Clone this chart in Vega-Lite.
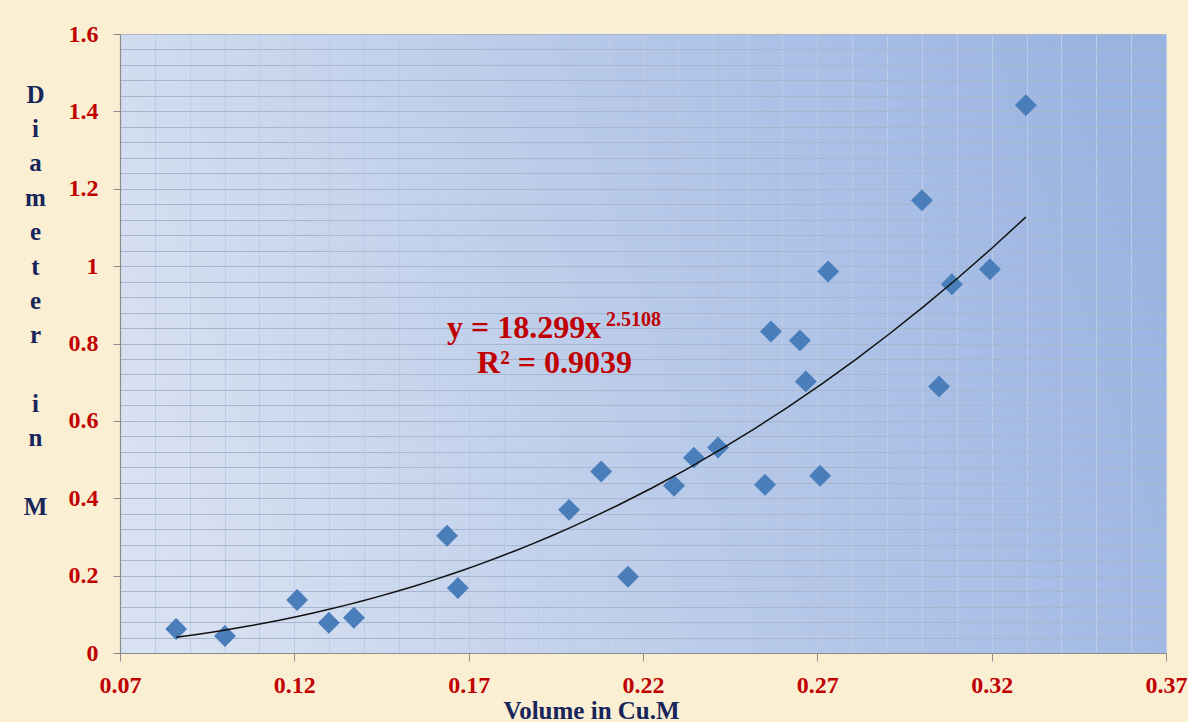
{
  "$schema": "https://vega.github.io/schema/vega-lite/v6.json",
  "autosize": "none",
  "width": 1046,
  "height": 619,
  "padding": {"left": 120, "top": 34, "right": 22, "bottom": 69},
  "background": "#fbefd3",
  "config": {
    "view": {
      "stroke": null,
      "fill": {"gradient": "linear", "x1": 0, "y1": 0.6, "x2": 1, "y2": 0.4,
        "stops": [{"offset": 0, "color": "#d8e1f1"}, {"offset": 1, "color": "#9ab4e2"}]}
    }
  },
  "datasets": {
    "trees": [
      {"volume": 0.0861, "diameter": 0.062},
      {"volume": 0.1001, "diameter": 0.044},
      {"volume": 0.1208, "diameter": 0.137},
      {"volume": 0.1299, "diameter": 0.078},
      {"volume": 0.1371, "diameter": 0.091},
      {"volume": 0.1638, "diameter": 0.303},
      {"volume": 0.1669, "diameter": 0.168},
      {"volume": 0.1988, "diameter": 0.370},
      {"volume": 0.2080, "diameter": 0.469},
      {"volume": 0.2157, "diameter": 0.197},
      {"volume": 0.2289, "diameter": 0.432},
      {"volume": 0.2346, "diameter": 0.505},
      {"volume": 0.2415, "diameter": 0.531},
      {"volume": 0.2550, "diameter": 0.435},
      {"volume": 0.2567, "diameter": 0.831},
      {"volume": 0.2650, "diameter": 0.808},
      {"volume": 0.2667, "diameter": 0.702},
      {"volume": 0.2708, "diameter": 0.458},
      {"volume": 0.2731, "diameter": 0.986},
      {"volume": 0.3000, "diameter": 1.170},
      {"volume": 0.3049, "diameter": 0.689},
      {"volume": 0.3086, "diameter": 0.953},
      {"volume": 0.3195, "diameter": 0.992},
      {"volume": 0.3298, "diameter": 1.416}
    ],
    "notes": [
      {"note": "y = 18.299x", "volume": 0.1638, "diameter": 0.8155, "size": "big"},
      {"note": "2.5108", "volume": 0.2094, "diameter": 0.846, "size": "small"},
      {"note": "R² = 0.9039", "volume": 0.1724, "diameter": 0.7249, "size": "big"}
    ]
  },
  "encoding": {
    "x": {
      "field": "volume", "type": "quantitative",
      "scale": {"domain": [0.07, 0.37], "nice": false, "zero": false},
      "axis": {
        "values": [0.07,0.08,0.09,0.1,0.11,0.12,0.13,0.14,0.15,0.16,0.17,0.18,0.19,0.2,0.21,0.22,0.23,0.24,0.25,0.26,0.27,0.28,0.29,0.3,0.31,0.32,0.33,0.34,0.35,0.36,0.37],
        "labelExpr": "abs((datum.value-0.07)*20 - round((datum.value-0.07)*20)) < 0.001 ? format(datum.value, '.2f') : ''",
        "tickOpacity": {"condition": {"test": "abs((datum.value-0.07)*20 - round((datum.value-0.07)*20)) < 0.001", "value": 1}, "value": 0},
        "tickSize": 8, "tickColor": "#8c8c8c", "domainColor": "#8c8c8c", "domainWidth": 1.2,
        "grid": true, "gridColor": "#bccbe6", "gridWidth": 1,
        "labelFont": "Liberation Serif", "labelFontWeight": "bold", "labelFontSize": 24, "labelColor": "#c00000",
        "labelPadding": 12, "labelFlush": false, "labelOverlap": false, "labelBound": false,
        "title": "Volume in Cu.M",
        "titleFont": "Liberation Serif", "titleFontWeight": "bold", "titleFontSize": 25, "titleColor": "#17255a",
        "titleX": 471, "titleY": 65, "titleAlign": "center", "titleBaseline": "alphabetic", "titleAnchor": null
      }
    },
    "y": {
      "field": "diameter", "type": "quantitative",
      "scale": {"domain": [0, 1.6], "nice": false, "zero": true},
      "axis": {
        "values": [0,0.04,0.08,0.12,0.16,0.2,0.24,0.28,0.32,0.36,0.4,0.44,0.48,0.52,0.56,0.6,0.64,0.68,0.72,0.76,0.8,0.84,0.88,0.92,0.96,1,1.04,1.08,1.12,1.16,1.2,1.24,1.28,1.32,1.36,1.4,1.44,1.48,1.52,1.56,1.6],
        "labelExpr": "abs(datum.value*5 - round(datum.value*5)) < 0.001 ? format(datum.value, '.1~f') : ''",
        "tickOpacity": {"condition": {"test": "abs(datum.value*5 - round(datum.value*5)) < 0.001", "value": 1}, "value": 0},
        "tickSize": 7, "tickColor": "#8c8c8c", "domainColor": "#8c8c8c", "domainWidth": 1.2,
        "grid": true, "gridColor": "#a9b7ce", "gridWidth": 1,
        "labelFont": "Liberation Serif", "labelFontWeight": "bold", "labelFontSize": 24, "labelColor": "#c00000",
        "labelPadding": 15, "labelOverlap": false, "labelBound": false, "labelFlush": false,
        "title": ["D", "i", "a", "m", "e", "t", "e", "r", "\u200b", "i", "n", "\u200b", "M"],
        "titleFont": "Liberation Serif", "titleFontWeight": "bold", "titleFontSize": 25, "titleColor": "#17255a",
        "titleAngle": 0, "titleAlign": "center", "titleBaseline": "alphabetic", "titleLineHeight": 34.4,
        "titleX": -85, "titleY": 68, "titleAnchor": null
      }
    }
  },
  "layer": [
    {
      "data": {"name": "trees"},
      "mark": {"type": "point", "shape": "diamond", "filled": true, "size": 480, "color": "#4a7ebb", "opacity": 1}
    },
    {
      "data": {"name": "trees"},
      "transform": [{"regression": "diameter", "on": "volume", "method": "pow", "extent": [0.0861, 0.3298]}],
      "mark": {"type": "line", "color": "#111111", "strokeWidth": 1.5}
    },
    {
      "data": {"name": "notes"},
      "mark": {"type": "text", "align": "left", "baseline": "alphabetic", "font": "Liberation Serif", "fontWeight": "bold", "color": "#c00000"},
      "encoding": {
        "text": {"field": "note"},
        "size": {"field": "size", "type": "nominal", "scale": {"domain": ["big", "small"], "range": [32, 20]}, "legend": null}
      }
    }
  ]
}
